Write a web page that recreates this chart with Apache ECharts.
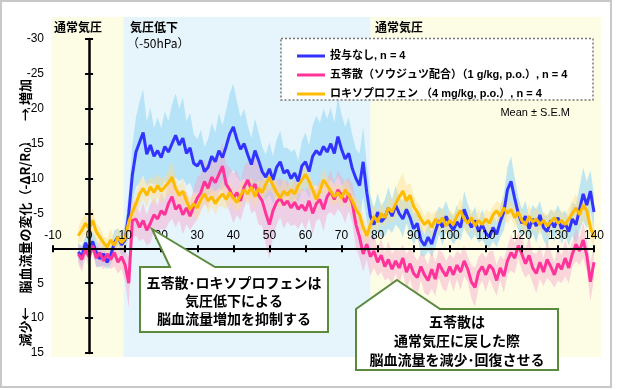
<!DOCTYPE html>
<html><head><meta charset="utf-8">
<script src="https://cdn.jsdelivr.net/npm/echarts@6/dist/echarts.min.js"></script>
<style>html,body{margin:0;padding:0;background:#fff}#c{width:620px;height:390px}</style>
</head><body><div id="c"></div>
<script>
// sampling grid (minutes)
const minutes = [];
for (let t = -3; t <= 140; t++) minutes.push(t);

const xTicks = [-10, 0, 10, 20, 30, 40, 50, 60, 70, 80, 90, 100, 110, 120, 130, 140];
const yTicks = [-30, -25, -20, -15, -10, -5, 0, 5, 10, 15];

const seriesNames = ['投与なし, n = 4', '五苓散（ソウジュツ配合）（1 g/kg, p.o.）, n = 4', 'ロキソプロフェン （4 mg/kg, p.o.）, n = 4'];

const blueMean = [
0.5,1.2,-0.8,0.3,-1.0,0.6,1.5,0.8,2.0,1.0,-0.8,-1.6,-0.5,-1.2,
-5.0,-10.5,-13.8,-15.2,-16.6,-13.5,-14.8,-13.2,-14.0,-13.0,
-14.6,-13.8,-15.0,-16.2,-14.8,-15.8,-13.6,-14.4,-12.2,-11.8,
-12.6,-11.0,-11.6,-13.2,-12.4,-14.0,-13.0,-14.6,-16.4,-17.4,
-15.6,-14.2,-15.0,-13.4,-12.0,-14.0,-12.6,-11.0,-10.2,-11.4,
-9.8,-11.6,-12.4,-10.8,-11.2,-10.0,-10.8,-9.6,-11.8,-12.4,
-11.0,-13.2,-14.0,-13.4,-14.6,-13.8,-15.0,-13.6,-16.0,-14.2,
-12.8,-13.6,-11.4,-10.0,-9.0,-12.4,-8.0,-4.6,-3.4,-5.2,
-3.8,-4.4,-5.8,-4.6,-6.2,-5.0,-4.2,-5.6,-4.4,-2.8,
-3.6,-1.2,-0.4,-1.6,-0.6,-2.4,-4.0,-3.0,-4.6,-3.4,
-2.6,-3.8,-3.0,-5.6,-4.2,-3.0,-4.0,-2.4,-3.4,-2.2,
-1.6,-3.0,-2.0,-3.8,-5.2,-8.4,-9.6,-7.2,-5.0,-3.6,
-4.6,-2.8,-4.2,-3.2,-4.8,-3.0,-2.4,-4.0,-3.0,-4.4,
-2.8,-3.6,-2.4,-4.2,-3.4,-5.6,-7.8,-6.2,-8.2,-5.2];

const pinkMean = [
0.8,1.6,0.2,1.2,-0.4,1.4,0.6,1.8,0.8,1.6,0.6,2.0,1.2,2.4,
5.0,-4.0,-4.2,-3.0,-4.0,-2.6,-3.6,-4.8,-4.2,-5.4,
-4.8,-6.4,-7.4,-5.6,-6.2,-4.8,-5.8,-4.6,-6.0,-7.2,
-8.0,-9.6,-8.6,-10.2,-9.4,-10.6,-11.8,-9.2,-8.4,-7.2,
-8.0,-6.8,-8.8,-9.8,-8.4,-9.2,-7.6,-6.8,-5.0,-3.4,
-5.4,-6.6,-7.2,-6.2,-6.8,-5.8,-6.6,-5.6,-6.2,-5.4,
-6.8,-5.0,-6.4,-7.0,-5.6,-7.4,-8.2,-7.0,-8.4,-7.6,
-6.6,-7.8,-6.4,-3.4,-1.6,0.8,-0.6,1.2,0.4,2.0,
1.0,2.6,1.6,3.0,1.8,2.8,1.4,3.4,2.2,3.6,
4.2,2.6,3.8,4.6,3.0,4.4,2.2,3.2,4.0,2.6,
3.8,2.4,3.4,1.8,3.0,4.8,5.6,3.4,2.6,3.8,
2.4,3.0,4.6,2.8,4.0,1.8,0.6,1.4,-0.4,0.8,
2.2,1.0,2.8,3.6,2.0,3.4,1.6,2.6,3.8,2.2,
3.0,1.4,2.8,0.8,-0.6,0.4,-1.2,1.0,4.8,2.0];

const yellowMean = [
-1.8,-2.6,-3.6,-2.8,-4.0,-2.4,-1.6,-0.8,-0.2,-1.2,-0.4,-1.6,-0.8,-1.4,
-3.8,-5.2,-6.4,-7.8,-8.6,-7.6,-8.8,-8.0,-9.0,-8.2,
-8.8,-9.4,-10.2,-8.6,-7.6,-8.2,-6.8,-5.6,-6.4,-5.8,
-7.0,-7.8,-6.8,-7.4,-6.4,-7.2,-7.8,-7.0,-8.0,-7.2,
-6.6,-7.6,-8.4,-7.8,-8.8,-7.4,-8.6,-8.0,-9.2,-10.2,
-9.0,-8.0,-7.2,-8.2,-7.6,-8.4,-7.8,-9.0,-9.8,-10.6,
-9.6,-8.4,-7.0,-8.2,-9.8,-9.0,-8.2,-7.4,-8.0,-7.2,
-8.4,-7.6,-6.8,-5.6,-4.8,-3.0,-1.8,-3.4,-4.6,-3.8,
-5.0,-4.4,-5.8,-5.2,-6.4,-7.4,-8.2,-6.8,-7.6,-6.0,
-5.2,-4.2,-3.4,-4.0,-3.0,-4.2,-3.6,-4.4,-3.2,-4.0,
-3.4,-4.6,-5.4,-4.2,-3.6,-4.4,-3.2,-4.0,-3.4,-4.2,
-3.6,-4.8,-5.4,-4.6,-5.8,-5.0,-5.6,-4.4,-5.2,-4.0,
-3.4,-4.6,-3.8,-4.2,-3.4,-4.0,-3.2,-3.8,-4.4,-3.6,
-4.0,-3.4,-4.2,-5.0,-5.8,-4.8,-6.2,-5.4,-3.0,-1.6];

const blueSem = [
1.2,1.6,1.0,1.8,1.4,2.0,1.2,1.6,1.0,1.4,1.8,1.2,1.6,2.2,
3.0,4.2,5.0,5.8,6.2,4.6,5.4,4.0,4.8,4.2,
5.0,4.4,5.6,6.0,5.2,5.8,4.6,5.0,4.2,3.8,
4.4,3.6,4.0,4.8,4.2,5.4,4.6,5.2,5.8,6.2,
5.4,4.6,5.0,4.2,3.8,4.6,4.0,3.6,3.2,3.8,
3.4,4.0,4.4,3.6,3.2,3.8,3.4,3.0,3.6,4.2,
3.8,4.4,5.0,4.6,5.4,4.8,5.2,4.4,5.6,5.0,
4.6,5.2,4.8,4.2,4.6,5.0,4.0,3.0,2.4,2.8,
2.2,2.6,3.0,2.4,2.8,2.2,2.6,2.0,2.4,2.2,
1.8,2.2,1.6,2.0,1.8,2.4,2.0,2.6,2.2,1.8,
2.0,2.4,1.8,2.6,2.2,1.8,2.0,1.6,2.2,1.8,
1.6,2.0,1.8,2.2,2.6,3.2,3.6,3.0,2.4,2.0,
2.2,1.8,2.0,2.4,2.0,1.8,2.2,1.6,2.0,1.8,
2.2,1.8,2.0,2.4,2.8,3.2,3.8,3.4,3.0,2.6];

const pinkSem = [
1.4,1.8,1.2,1.6,1.0,1.4,1.8,1.2,1.6,1.4,2.0,1.6,1.8,2.4,
3.6,2.8,2.4,2.0,2.6,2.2,2.8,2.4,2.0,2.6,
2.2,2.8,3.2,2.6,2.2,2.8,2.4,2.0,2.6,3.0,
2.6,3.2,2.8,2.4,3.0,2.6,3.4,2.8,3.2,3.6,
3.2,2.8,3.0,2.6,3.4,3.8,4.2,3.6,4.4,5.0,
3.8,3.2,2.8,3.4,3.0,2.6,3.2,2.8,2.4,2.8,
2.6,3.0,2.4,2.8,3.2,2.6,3.0,2.4,2.8,2.6,
3.0,2.4,2.8,3.4,3.0,2.6,2.2,2.8,2.4,2.0,
2.4,2.0,2.6,2.2,1.8,2.4,2.0,2.6,2.2,2.8,
2.4,2.0,2.6,2.2,2.8,2.4,2.0,2.6,2.2,1.8,
2.4,2.0,2.6,2.2,1.8,2.4,2.8,2.2,2.0,2.4,
2.0,2.6,2.2,1.8,2.4,2.0,2.6,2.2,1.8,2.4,
2.0,2.6,2.2,2.8,2.4,2.0,2.6,2.2,1.8,2.4,
2.0,2.6,2.2,1.8,2.4,2.0,2.6,2.2,2.8,2.4];

const yellowSem = [
1.2,1.6,1.4,1.0,1.8,1.2,1.4,1.0,1.2,1.6,1.0,1.4,1.2,1.6,
1.8,1.4,1.6,2.0,1.6,1.8,1.4,2.0,1.6,1.8,
1.4,1.8,2.2,1.6,1.4,1.8,1.2,1.6,1.4,1.8,
1.6,1.2,1.8,1.4,1.6,1.2,1.8,1.4,1.6,1.2,
1.4,1.8,1.2,1.6,1.4,1.8,1.2,1.6,1.4,1.8,
1.2,1.6,1.4,1.8,1.2,1.6,1.4,1.2,1.8,1.6,
1.4,1.2,1.6,1.4,1.8,1.2,1.6,1.4,1.2,1.6,
1.4,1.8,1.2,1.6,2.0,1.6,1.4,1.8,1.6,1.4,
1.6,1.2,1.8,1.6,2.0,2.4,2.6,2.2,1.8,1.6,
1.4,1.6,1.2,1.4,1.8,1.2,1.6,1.4,1.2,1.6,
1.4,1.2,1.8,1.4,1.6,1.2,1.4,1.6,1.2,1.4,
1.6,1.2,1.4,1.8,1.4,1.6,1.2,1.4,1.6,1.2,
1.4,1.6,1.2,1.8,1.4,1.2,1.6,1.4,1.2,1.6,
1.4,1.2,1.6,1.8,2.0,1.6,2.2,1.8,1.6,1.4];

// phase boundaries (minutes)
const lowPressureStart = 9.6, lowPressureEnd = 78;

const CJK = '"Noto Sans CJK JP", "Noto Sans", sans-serif';
const MIX = '"Liberation Sans", "Noto Sans CJK JP", sans-serif';
const LAT = '"Liberation Sans", Arial, sans-serif';

const colors = ['#3333FF', '#FF3399', '#FFBB00'];
const bandColors = ['rgba(150,215,244,0.6)', 'rgba(246,165,205,0.45)', 'rgba(255,220,140,0.45)'];
const means = [blueMean, pinkMean, yellowMean];
const sems = [blueSem, pinkSem, yellowSem];

const GRID_TOP = 39, GRID_H = 314, GRID_LEFT = 53, GRID_W = 541;
const yMin = yTicks[0], yMax = yTicks[yTicks.length - 1];
// x axis sits on y = 0
const xAxisOffset = -(yMax - 0) * GRID_H / (yMax - yMin);

const series = [];
// background phases
series.push({
  type: 'line', xAxisIndex: 0, yAxisIndex: 0, data: [[0, 0]], symbol: 'none',
  lineStyle: { opacity: 0 }, silent: true, z: 0,
  markArea: { silent: true, itemStyle: { color: '#E6F5FC' },
    data: [[{ xAxis: lowPressureStart }, { xAxis: lowPressureEnd }]] }
});
// SEM bands (polygon between mean-sem and mean+sem)
means.forEach((m, k) => {
  const s = sems[k];
  series.push({
    type: 'custom', xAxisIndex: 1, yAxisIndex: 1, silent: true, z: 1, clip: true,
    data: [[minutes[0], m[0]]],
    renderItem: (params, api) => {
      const up = minutes.map((t, i) => api.coord([t, m[i] - s[i]]));
      const lo = minutes.map((t, i) => api.coord([t, m[i] + s[i]])).reverse();
      return { type: 'polygon', shape: { points: up.concat(lo) }, style: { fill: bandColors[k] } };
    }
  });
});
// mean lines
means.forEach((m, k) => {
  series.push({
    name: seriesNames[k], type: 'line', xAxisIndex: 1, yAxisIndex: 1,
    data: minutes.map((t, i) => [t, m[i]]),
    symbol: 'none', showSymbol: false, color: colors[k],
    lineStyle: { color: colors[k], width: 3 }, z: 3 + k
  });
});

const chart = echarts.init(document.getElementById('c'), null, { renderer: 'canvas' });

const tickFont = { fontFamily: LAT, fontSize: 12, color: '#000' };

chart.setOption({
  animation: false,
  backgroundColor: '#fff',
  grid: [
    { left: 51, top: 17, width: 550, height: 340, show: true, backgroundColor: '#FDFDE6', borderWidth: 0, outerBoundsMode: 'none' },
    { left: GRID_LEFT, top: GRID_TOP, width: GRID_W, height: GRID_H, outerBoundsMode: 'none' }
  ],
  xAxis: [
    { gridIndex: 0, type: 'value', min: -10.555, max: 141.94, show: false },
    { gridIndex: 1, type: 'value', min: xTicks[0], max: xTicks[xTicks.length - 1], interval: 10, position: 'bottom',
      offset: xAxisOffset,
      axisLine: { onZero: false, lineStyle: { color: '#000', width: 2 } },
      axisTick: { show: true, inside: false, length: 4, lineStyle: { color: '#000', width: 2 } },
      axisLabel: { inside: true, margin: 7, ...tickFont, showMinLabel: true, showMaxLabel: true },
      splitLine: { show: false }, z: 6 },
    { gridIndex: 1, type: 'value', min: xTicks[0], max: xTicks[xTicks.length - 1], interval: 10, position: 'bottom',
      offset: xAxisOffset,
      axisLine: { show: false, onZero: false },
      axisTick: { show: true, inside: true, length: 3, lineStyle: { color: '#000', width: 2 } },
      axisLabel: { show: false }, splitLine: { show: false }, z: 6 }
  ],
  yAxis: [
    { gridIndex: 0, type: 'value', min: -33.153, max: 15.573, inverse: true, show: false },
    { gridIndex: 1, type: 'value', min: yMin, max: yMax, interval: 5, inverse: true, position: 'left',
      axisLine: { onZero: true, onZeroAxisIndex: 1, lineStyle: { color: '#000', width: 2.5 } },
      axisTick: { show: true, inside: false, length: 4, lineStyle: { color: '#000', width: 2 } },
      axisLabel: { margin: 9, ...tickFont, formatter: v => (v === 0 ? '' : String(v)) },
      splitLine: { show: false }, z: 6 },
    { gridIndex: 1, type: 'value', min: yMin, max: yMax, interval: 5, inverse: true, position: 'left',
      axisLine: { show: false, onZero: true, onZeroAxisIndex: 2 },
      axisTick: { show: true, inside: true, length: 4, lineStyle: { color: '#000', width: 2 } },
      axisLabel: { show: false }, splitLine: { show: false }, z: 6 }
  ],
  legend: {
    data: seriesNames, orient: 'vertical', left: 292, top: 45, itemWidth: 28, itemHeight: 3, itemGap: 7,
    icon: 'rect', selectedMode: false, z: 30,
    textStyle: { fontFamily: MIX, fontWeight: 'bold', fontSize: 11, color: '#000', lineHeight: 12 }
  },
  series: series,
  graphic: [
    // outer frame
    { type: 'rect', z: 50, shape: { x: 1, y: 1, width: 610, height: 386 }, style: { fill: 'none', stroke: '#C8C8C8', lineWidth: 2 } },
    // legend box
    { type: 'rect', z: 20, shape: { x: 281, y: 38.5, width: 312, height: 61.5 }, style: { fill: '#fff', stroke: '#777', lineWidth: 1.5, lineDash: [2, 2] } },
    { type: 'text', z: 20, x: 570, y: 113, style: { text: 'Mean ± S.E.M', font: '11px ' + LAT, fill: '#000', textAlign: 'right', textVerticalAlign: 'middle' } },
    // phase titles
    { type: 'text', z: 20, x: 54, y: 27, style: { text: '通常気圧', font: 'bold 12px ' + CJK, fill: '#000', textVerticalAlign: 'middle' } },
    { type: 'text', z: 20, x: 130, y: 27, style: { text: '気圧低下', font: 'bold 12px ' + CJK, fill: '#000', textVerticalAlign: 'middle' } },
    { type: 'text', z: 20, x: 127, y: 43, style: { text: '（-50hPa）', font: '12px ' + CJK, fill: '#000', textVerticalAlign: 'middle' } },
    { type: 'text', z: 20, x: 375, y: 27, style: { text: '通常気圧', font: 'bold 12px ' + CJK, fill: '#000', textVerticalAlign: 'middle' } },
    // y axis title pieces (rotated)
    { type: 'text', z: 20, x: 25, y: 100, rotation: Math.PI / 2,
      style: { text: '→ 増加', font: 'bold 13px ' + CJK, fill: '#000', textAlign: 'center', textVerticalAlign: 'middle' } },
    { type: 'text', z: 20, x: 25, y: 214, rotation: Math.PI / 2,
      style: { text: '{a|脳血流量の変化（-ΔR/R}{s|0}{a|）}', textAlign: 'center', textVerticalAlign: 'middle',
        rich: { a: { font: 'bold 13px ' + CJK, fill: '#000', color: '#000' },
                s: { fontFamily: CJK, fontWeight: 'bold', fontSize: 9, color: '#000', padding: [6, 0, 0, 0] } } } },
    { type: 'text', z: 20, x: 25, y: 327, rotation: Math.PI / 2,
      style: { text: '減少←', font: 'bold 13px ' + CJK, fill: '#000', textAlign: 'center', textVerticalAlign: 'middle' } },
    // callout 1
    { type: 'polygon', z: 40, shape: { points: [[152, 229], [215, 267], [328, 267], [328, 332], [140, 332], [140, 267], [170, 267]] },
      style: { fill: '#fff', stroke: '#5B8A3C', lineWidth: 2 } },
    { type: 'text', z: 41, x: 234, y: 283, style: { text: '五苓散･ロキソプロフェンは', font: 'bold 14px ' + CJK, fill: '#000', textAlign: 'center', textVerticalAlign: 'middle' } },
    { type: 'text', z: 41, x: 234, y: 301, style: { text: '気圧低下による', font: 'bold 14px ' + CJK, fill: '#000', textAlign: 'center', textVerticalAlign: 'middle' } },
    { type: 'text', z: 41, x: 234, y: 319, style: { text: '脳血流量増加を抑制する', font: 'bold 14px ' + CJK, fill: '#000', textAlign: 'center', textVerticalAlign: 'middle' } },
    // callout 2
    { type: 'polygon', z: 40, shape: { points: [[397, 280], [440, 309], [558, 309], [558, 370], [356, 370], [356, 309]] },
      style: { fill: '#fff', stroke: '#5B8A3C', lineWidth: 2 } },
    { type: 'text', z: 41, x: 457, y: 322, style: { text: '五苓散は', font: 'bold 14px ' + CJK, fill: '#000', textAlign: 'center', textVerticalAlign: 'middle' } },
    { type: 'text', z: 41, x: 457, y: 341, style: { text: '通常気圧に戻した際', font: 'bold 14px ' + CJK, fill: '#000', textAlign: 'center', textVerticalAlign: 'middle' } },
    { type: 'text', z: 41, x: 457, y: 360, style: { text: '脳血流量を減少･回復させる', font: 'bold 14px ' + CJK, fill: '#000', textAlign: 'center', textVerticalAlign: 'middle' } }
  ]
});
</script>
</body></html>
